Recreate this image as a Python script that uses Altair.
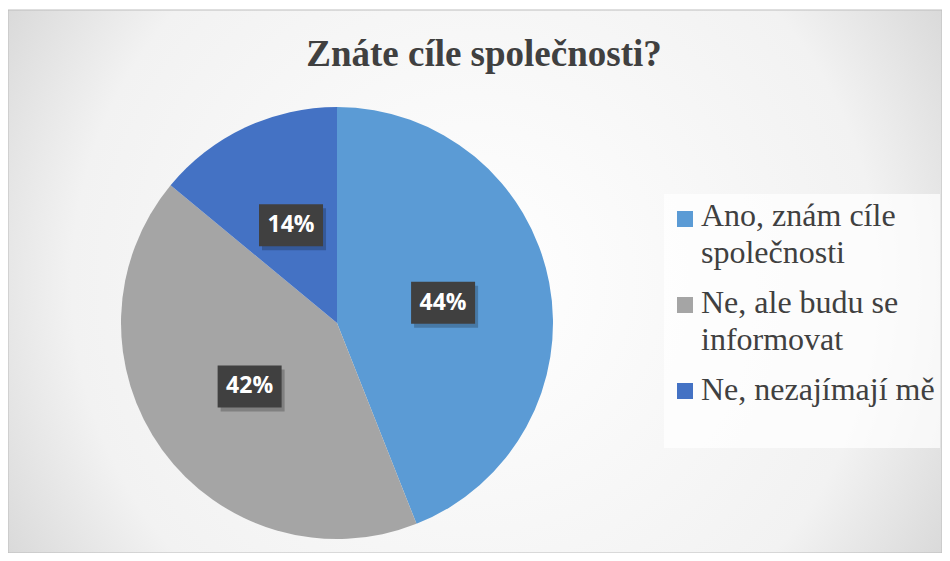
import altair as alt
import pandas as pd

# ---- data ----
title_text = "Znáte cíle společnosti?"
categories = ["Ano, znám cíle společnosti", "Ne, ale budu se informovat", "Ne, nezajímají mě"]
legend_labels = ["Ano, znám cíle\nspolečnosti", "Ne, ale budu se\ninformovat", "Ne, nezajímají mě"]
values = [44, 42, 14]
pct_labels = ["44%", "42%", "14%"]
colors = ["#5B9BD5", "#A5A5A5", "#4472C4"]

df = pd.DataFrame({
    "category": categories,
    "legend": legend_labels,
    "value": values,
    "label": pct_labels,
    "idx": list(range(len(categories))),
})
one = pd.DataFrame({"a": [0]})

W, H = 934, 545
CX, CY, R = 329, 315, 216
LR = 108

color_scale = alt.Scale(domain=categories, range=colors)

bg = alt.Chart(one).mark_rect(
    fill=alt.RadialGradient(
        gradient="radial",
        x1=0.5, y1=0.5, r1=0,
        x2=0.5, y2=0.5, r2=0.72,
        stops=[
            alt.GradientStop(offset=0, color="#ffffff"),
            alt.GradientStop(offset=0.6, color="#f2f2f2"),
            alt.GradientStop(offset=1, color="#c2c2c2"),
        ],
    ),
    stroke="#bdbdbd",
    strokeWidth=1,
).encode(x=alt.value(0), x2=alt.value(W), y=alt.value(2), y2=alt.value(H))

pie = alt.Chart(df).mark_arc(outerRadius=R).encode(
    theta=alt.Theta("value:Q", stack=True),
    color=alt.Color("category:N", scale=color_scale, legend=None),
    order=alt.Order("idx:Q"),
    x=alt.value(CX),
    y=alt.value(CY),
)

pos = alt.Chart(df).transform_window(
    cum="sum(value)", sort=[alt.SortField("idx")], frame=[None, 0]
).transform_joinaggregate(
    total="sum(value)"
).transform_calculate(
    mid="2*PI*(datum.cum - datum.value/2)/datum.total"
).transform_calculate(
    lx=f"{CX} + {LR}*sin(datum.mid)",
    ly=f"{CY} - {LR}*cos(datum.mid)",
)

box_path = "M-1.524,-1H1.524V1H-1.524Z"
shadow = pos.mark_point(
    shape=box_path, size=42 * 42, filled=True, color="#000000", opacity=0.22,
    xOffset=3, yOffset=4,
).encode(x=alt.X("lx:Q", scale=None), y=alt.Y("ly:Q", scale=None))
boxes = pos.mark_point(
    shape=box_path, size=42 * 42, filled=True, color="#404040", opacity=1,
).encode(x=alt.X("lx:Q", scale=None), y=alt.Y("ly:Q", scale=None))
texts = pos.mark_text(
    font="Open Sans", fontWeight="bold", fontSize=23, color="#ffffff",
    align="center", baseline="middle",
).encode(x=alt.X("lx:Q", scale=None), y=alt.Y("ly:Q", scale=None), text="label:N")

title = alt.Chart(one).mark_text(
    font="Liberation Serif", fontWeight="bold", fontSize=37, color="#404040",
    align="center", baseline="alphabetic",
).encode(x=alt.value(476), y=alt.value(58), text=alt.value(title_text))

legend_box = alt.Chart(one).mark_rect(fill="#ffffff", opacity=0.72).encode(
    x=alt.value(656), x2=alt.value(932), y=alt.value(186), y2=alt.value(440)
)

leg = alt.Chart(df).transform_calculate(
    sy="211 + 86*datum.idx",
    ty="218 + 87*datum.idx",
)
leg_sq = leg.mark_point(shape="square", size=256, filled=True, opacity=1).encode(
    x=alt.value(677),
    y=alt.Y("sy:Q", scale=None),
    color=alt.Color("category:N", scale=color_scale, legend=None),
)
leg_txt = leg.mark_text(
    font="Liberation Serif", fontSize=32, color="#404040", align="left",
    baseline="alphabetic", lineBreak="\n", lineHeight=37,
).encode(x=alt.value(693), y=alt.Y("ty:Q", scale=None), text="legend:N")

chart = alt.layer(
    bg, pie, shadow, boxes, texts, title, legend_box, leg_sq, leg_txt
).properties(
    width=W, height=H, autosize=alt.AutoSizeParams(type="none"), padding=0,
    background="#ffffff",
).configure_view(stroke=None)

chart.save("out.html", embed_options={"renderer": "svg", "actions": False})
